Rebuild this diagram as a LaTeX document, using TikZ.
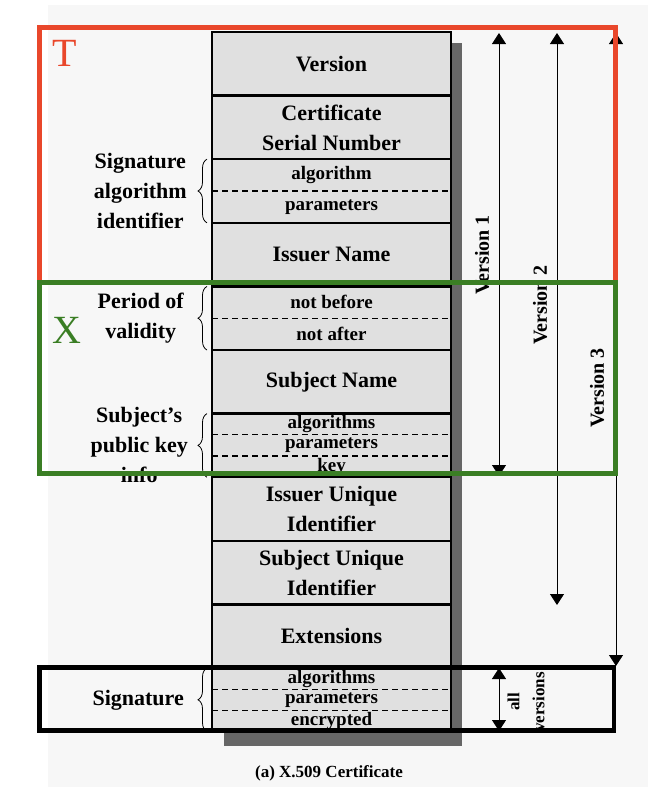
\documentclass[tikz,border=0pt]{standalone}
\usepackage{fontspec}
\setmainfont{Liberation Serif}
\usetikzlibrary{positioning,calc,arrows.meta,decorations.pathreplacing}

\definecolor{bgfill}{HTML}{F7F7F7}
\definecolor{cellfill}{HTML}{E0E0E0}
\definecolor{shadowgray}{HTML}{666666}
\definecolor{tred}{HTML}{E9472B}
\definecolor{xgreen}{HTML}{3A7E24}

\tikzset{
	cell/.style={draw, line width=2.4pt, fill=cellfill, minimum width=239pt,
		minimum height=63.6pt, inner sep=0pt, outer sep=0pt, align=center,
		font=\bfseries\fontsize{22}{30}\selectfont},
	subtext/.style={inner sep=0pt, font=\bfseries\fontsize{19}{20}\selectfont},
	sep/.style={dash pattern=on 6pt off 4pt, line width=1.2pt},
	sidelabel/.style={align=center, inner sep=0pt, font=\bfseries\fontsize{22}{30}\selectfont},
	sidebrace/.style={decorate, decoration={brace, amplitude=9pt}, line width=0.8pt},
	vlabel/.style={rotate=90, inner sep=0pt, align=center, font=\bfseries\fontsize{20}{26}\selectfont},
	varrow/.style={line width=0.9pt, {Triangle[length=11pt,width=14pt]}-{Triangle[length=11pt,width=14pt]}},
	frame/.style={line width=4.6pt},
	bigletter/.style={inner sep=0pt, font=\fontsize{40}{40}\selectfont}
}

\begin{document}
\begin{tikzpicture}[x=1pt, y=-1pt]
	\useasboundingbox (0,0) rectangle (648,806);
	\fill[bgfill] (48,5) rectangle (648,787);
	% shadow behind the certificate
	\fill[shadowgray] (224,43) rectangle (462,746);

	% certificate fields
	\node[cell] (version) at (331.5,63.8) {Version};
	\node[cell, below=0pt of version] (serial) {Certificate\\Serial Number};
	\node[cell, below=0pt of serial] (sigalg) {};
	\node[cell, below=0pt of sigalg] (issuer) {Issuer Name};
	\node[cell, below=0pt of issuer] (validity) {};
	\node[cell, below=0pt of validity] (subject) {Subject Name};
	\node[cell, below=0pt of subject] (pubkey) {};
	\node[cell, below=0pt of pubkey] (issuerid) {Issuer Unique\\Identifier};
	\node[cell, below=0pt of issuerid] (subjectid) {Subject Unique\\Identifier};
	\node[cell, below=0pt of subjectid] (ext) {Extensions};
	\node[cell, below=0pt of ext] (sig) {};

	% fields split in two
	\foreach \r/\a/\b in {sigalg/algorithm/parameters, validity/not before/not after} {
		\draw[sep] (\r.west) -- (\r.east);
		\node[subtext] (\r-1) at ($(\r.north)!0.25!(\r.south)$) {\a};
		\node[subtext] (\r-2) at ($(\r.north)!0.75!(\r.south)$) {\b};
	}
	% fields split in three
	\foreach \r/\a/\b/\c in {pubkey/algorithms/parameters/key, sig/algorithms/parameters/encrypted} {
		\draw[sep] ($(\r.north west)!0.333!(\r.south west)$) -- ($(\r.north east)!0.333!(\r.south east)$);
		\draw[sep] ($(\r.north west)!0.667!(\r.south west)$) -- ($(\r.north east)!0.667!(\r.south east)$);
		\node[subtext] (\r-1) at ($(\r.north)!0.167!(\r.south)$) {\a};
		\node[subtext] (\r-2) at ($(\r.north)!0.5!(\r.south)$) {\b};
		\node[subtext] (\r-3) at ($(\r.north)!0.833!(\r.south)$) {\c};
	}

	% braces on the left
	\foreach \r in {sigalg, validity, pubkey, sig} {
		\draw[sidebrace] ($(\r.south west)+(-5,0)$) -- ($(\r.north west)+(-5,0)$);
	}
	\node[sidelabel, anchor=east] (sigalglabel) at ($(sigalg.west)+(-25,0)$) {Signature\\algorithm\\identifier};
	\node[sidelabel, anchor=east] (validitylabel) at ($(validity.west)+(-28,0)$) {Period of\\validity};
	\node[sidelabel, anchor=east] (pubkeylabel) at ($(pubkey.west)+(-24,0)$) {Subject's\\public key\\info};
	\node[sidelabel, anchor=east] (siglabel) at ($(sig.west)+(-28,0)$) {Signature};

	% version ranges
	\coordinate (v1top) at (499,33);
	\coordinate (v1bot) at (499,476);
	\coordinate (v2top) at (557,33);
	\coordinate (v2bot) at (557,605);
	\coordinate (v3top) at (616,33);
	\coordinate (v3bot) at (616,666);
	\coordinate (alltop) at (499,668);
	\coordinate (allbot) at (499,731);
	\draw[varrow] (v1top) -- (v1bot);
	\draw[varrow] (v2top) -- (v2bot);
	\draw[varrow] (v3top) -- (v3bot);
	\draw[varrow] (alltop) -- (allbot);
	\node[vlabel] (v1label) at (482,255) {Version 1};
	\node[vlabel] (v2label) at (540,305) {Version 2};
	\node[vlabel] (v3label) at (597,388) {Version 3};
	\node[vlabel, font=\bfseries\fontsize{17}{25}\selectfont] (alllabel) at (526,702) {all\\versions};

	\node[font=\bfseries\fontsize{17}{20}\selectfont] (caption) at (329,773) {(a) X.509 Certificate};

	% highlight frames
	\draw[frame, tred] (39.5,27.5) rectangle (615.5,282);
	\draw[frame, xgreen] (39.5,282.5) rectangle (615.5,473.5);
	\draw[frame] (39.5,667.5) rectangle (614,730.5);
	\node[bigletter, text=tred] (tmark) at (65,53) {T};
	\node[bigletter, text=xgreen] (xmark) at (67,330) {X};
\end{tikzpicture}
\end{document}
